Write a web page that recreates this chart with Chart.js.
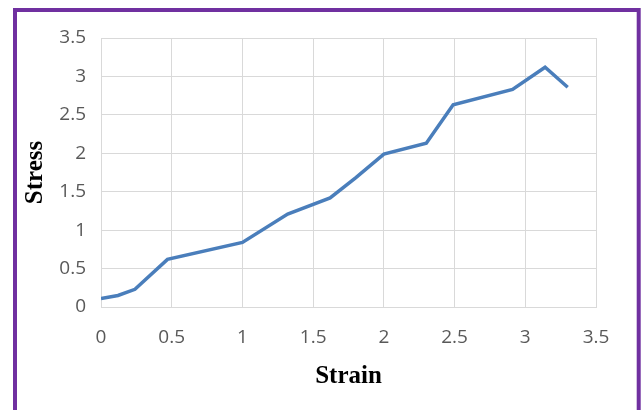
<!DOCTYPE html>
<html>
<head>
<meta charset="utf-8">
<script src="https://cdn.jsdelivr.net/npm/chart.js@4/dist/chart.umd.min.js"></script>
<style>
  html, body { margin: 0; padding: 0; background: #ffffff; }
  #wrap { position: relative; width: 642px; height: 410px; }
  canvas { display: block; }
</style>
</head>
<body>
<div id="wrap"><canvas id="chart" width="642" height="410"></canvas></div>
<script>
// Stress–strain curve
const strain = [0, 0.12, 0.24, 0.47, 1.0, 1.32, 1.62, 1.8, 2.0, 2.3, 2.49, 2.91, 3.14, 3.3];
const stress = [0.11, 0.15, 0.23, 0.62, 0.84, 1.21, 1.42, 1.68, 1.99, 2.13, 2.63, 2.83, 3.12, 2.86];
const axisTicks = [0, 0.5, 1, 1.5, 2, 2.5, 3, 3.5];
const xTitle = 'Strain';
const yTitle = 'Stress';

const points = strain.map((x, i) => ({ x: x, y: stress[i] }));

// Purple frame around the chart
const framePlugin = {
  id: 'frame',
  beforeDraw(chart) {
    const ctx = chart.ctx;
    ctx.save();
    ctx.fillStyle = '#ffffff';
    ctx.fillRect(0, 0, chart.width, chart.height);
    ctx.strokeStyle = '#7030A0';
    ctx.lineWidth = 4;
    ctx.strokeRect(15, 10, 623.7, 420);
    ctx.restore();
  }
};

const tickFont = { family: '"Open Sans", sans-serif', size: 19 };
const titleFont = { family: '"Liberation Serif", "Times New Roman", serif', size: 25, weight: 'bold' };
const gridColor = '#d9d9d9';
const plainLabel = (v) => String(v);

new Chart(document.getElementById('chart'), {
  type: 'scatter',
  data: {
    datasets: [{
      data: points,
      showLine: true,
      borderColor: '#4a7ebb',
      backgroundColor: '#4a7ebb',
      borderWidth: 3.5,
      pointRadius: 0,
      tension: 0
    }]
  },
  options: {
    responsive: false,
    animation: false,
    layout: { padding: { left: 20, right: 46, top: 38, bottom: 14 } },
    plugins: { legend: { display: false }, tooltip: { enabled: false } },
    scales: {
      x: {
        type: 'linear',
        min: axisTicks[0],
        max: axisTicks[axisTicks.length - 1],
        afterBuildTicks(scale) { scale.ticks = axisTicks.map(v => ({ value: v })); },
        afterFit(scale) { scale.height = 89; },
        grid: { color: gridColor, lineWidth: 1, drawTicks: false },
        border: { color: gridColor, width: 1 },
        ticks: { font: tickFont, color: '#595959', padding: 19, maxRotation: 0, callback: plainLabel },
        title: { display: true, text: xTitle, font: titleFont, color: '#000000', padding: { top: 0, bottom: 4 } }
      },
      y: {
        type: 'linear',
        min: axisTicks[0],
        max: axisTicks[axisTicks.length - 1],
        afterBuildTicks(scale) { scale.ticks = axisTicks.map(v => ({ value: v })); },
        afterFit(scale) { scale.width = 81; },
        grid: { color: gridColor, lineWidth: 1, drawTicks: false },
        border: { color: gridColor, width: 1 },
        ticks: { font: tickFont, color: '#595959', padding: 15, callback: plainLabel },
        title: { display: true, text: yTitle, font: titleFont, color: '#000000', padding: { top: 1, bottom: 0 } }
      }
    }
  },
  plugins: [framePlugin]
});
</script>
</body>
</html>
